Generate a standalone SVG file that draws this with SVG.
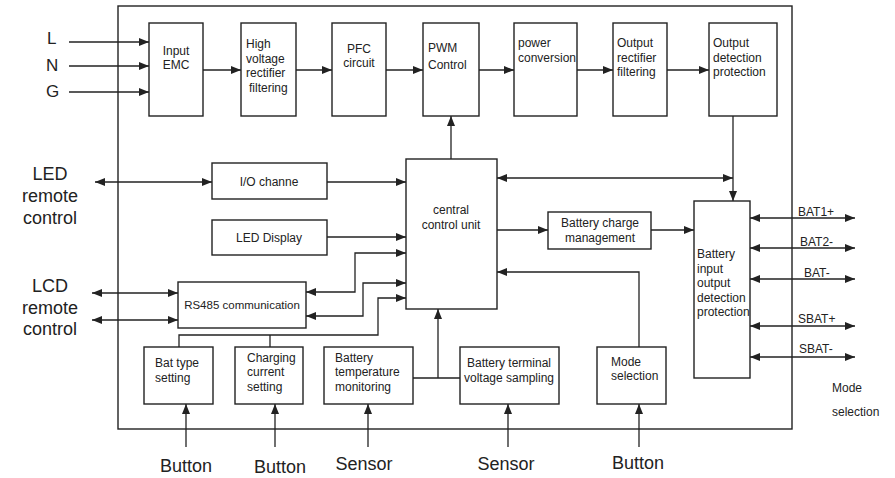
<svg xmlns="http://www.w3.org/2000/svg" width="895" height="478" viewBox="0 0 895 478">
<style>
.b{fill:#fff;stroke:#222;stroke-width:1.4}
.c{fill:none;stroke:#222;stroke-width:1.3}
text{font-family:"Liberation Sans",Arial,sans-serif;fill:#222}
.t{font-size:12px}
.tc{font-size:12px;text-anchor:middle}
.big{font-size:18px;text-anchor:middle}
</style>
<defs>
<marker id="a" viewBox="0 0 10 8" refX="10" refY="4" markerWidth="10" markerHeight="8" markerUnits="userSpaceOnUse" orient="auto-start-reverse"><path d="M0,0 L10,4 L0,8 z" fill="#222"/></marker>
</defs>
<rect width="895" height="478" fill="#fff"/>
<rect id="frame" x="118" y="6" width="674" height="423" fill="none" stroke="#222" stroke-width="1.4"/>

<g id="connectors">
<path class="c" d="M69,42 H149" marker-end="url(#a)"/>
<path class="c" d="M69,66 H149" marker-end="url(#a)"/>
<path class="c" d="M69,92 H149" marker-end="url(#a)"/>
<path class="c" d="M203,70 H241" marker-end="url(#a)"/>
<path class="c" d="M296,70 H332" marker-end="url(#a)"/>
<path class="c" d="M386,70 H423" marker-end="url(#a)"/>
<path class="c" d="M479,70 H514" marker-end="url(#a)"/>
<path class="c" d="M577,70 H613" marker-end="url(#a)"/>
<path class="c" d="M667,70 H709" marker-end="url(#a)"/>
<path class="c" d="M451,159 V116" marker-end="url(#a)"/>
<path class="c" d="M733,116 V201" marker-end="url(#a)"/>
<path class="c" d="M95,182 H212" marker-start="url(#a)" marker-end="url(#a)"/>
<path class="c" d="M327,182 H406" marker-end="url(#a)"/>
<path class="c" d="M327,237 H406" marker-end="url(#a)"/>
<path class="c" d="M92,293 H178" marker-start="url(#a)" marker-end="url(#a)"/>
<path class="c" d="M92,320 H178" marker-start="url(#a)" marker-end="url(#a)"/>
<path class="c" d="M306,292 H355 V253 H406" marker-start="url(#a)" marker-end="url(#a)"/>
<path class="c" d="M306,316 H363 V283 H406" marker-start="url(#a)" marker-end="url(#a)"/>
<path class="c" d="M179,347 V335 H378 V298 H406" marker-end="url(#a)"/>
<path class="c" d="M270,347 V335"/>
<path class="c" d="M497,178 H733" marker-start="url(#a)" marker-end="url(#a)"/>
<path class="c" d="M497,230 H548" marker-end="url(#a)"/>
<path class="c" d="M651,230 H694" marker-end="url(#a)"/>
<path class="c" d="M639,347 V272 H497" marker-end="url(#a)"/>
<path class="c" d="M413,378 H460 M438,378 V309" marker-end="url(#a)"/>
<path class="c" d="M750,218 H855" marker-start="url(#a)" marker-end="url(#a)"/>
<path class="c" d="M750,248 H855" marker-start="url(#a)" marker-end="url(#a)"/>
<path class="c" d="M750,279 H855" marker-start="url(#a)" marker-end="url(#a)"/>
<path class="c" d="M750,326 H855" marker-start="url(#a)" marker-end="url(#a)"/>
<path class="c" d="M750,357 H855" marker-start="url(#a)" marker-end="url(#a)"/>
<path class="c" d="M186,447 V404" marker-end="url(#a)"/>
<path class="c" d="M275,447 V404" marker-end="url(#a)"/>
<path class="c" d="M368,447 V404" marker-end="url(#a)"/>
<path class="c" d="M508,447 V404" marker-end="url(#a)"/>
<path class="c" d="M639,447 V404" marker-end="url(#a)"/>
</g>

<g id="input-emc"><rect class="b" x="149" y="23" width="54" height="93"/><text class="tc" x="176" y="55">Input</text><text class="tc" x="176" y="69">EMC</text></g>
<g id="hv-rectifier"><rect class="b" x="241" y="23" width="55" height="93"/><text class="t" x="246" y="48">High</text><text class="t" x="246" y="63">voltage</text><text class="t" x="246" y="77">rectifier</text><text class="t" x="249" y="92">filtering</text></g>
<g id="pfc"><rect class="b" x="332" y="23" width="54" height="93"/><text class="tc" x="359" y="53">PFC</text><text class="tc" x="359" y="67">circuit</text></g>
<g id="pwm"><rect class="b" x="423" y="23" width="56" height="93"/><text class="t" x="428" y="52">PWM</text><text class="t" x="428" y="69">Control</text></g>
<g id="power-conv"><rect class="b" x="514" y="23" width="63" height="93"/><text class="t" x="518" y="47">power</text><text class="t" x="518" y="62">conversion</text></g>
<g id="out-rect"><rect class="b" x="613" y="23" width="54" height="93"/><text class="t" x="617" y="47">Output</text><text class="t" x="617" y="62">rectifier</text><text class="t" x="617" y="76">filtering</text></g>
<g id="out-det"><rect class="b" x="709" y="23" width="68" height="93"/><text class="t" x="713" y="47">Output</text><text class="t" x="713" y="62">detection</text><text class="t" x="713" y="76">protection</text></g>

<g id="io"><rect class="b" x="212" y="163" width="115" height="36"/><text class="tc" x="269" y="186">I/O channe</text></g>
<g id="led-display"><rect class="b" x="212" y="220" width="115" height="35"/><text class="tc" x="269" y="242">LED Display</text></g>
<g id="rs485"><rect class="b" x="178" y="282" width="128" height="46"/><text class="tc" x="242" y="309" style="font-size:11.5px">RS485 communication</text></g>
<g id="cpu"><rect class="b" x="406" y="159" width="91" height="150"/><text class="tc" x="451" y="214">central</text><text class="tc" x="451" y="229">control unit</text></g>
<g id="charge-mgmt"><rect class="b" x="548" y="212" width="103" height="37"/><text class="tc" x="600" y="227">Battery charge</text><text class="tc" x="600" y="242">management</text></g>
<g id="bat-io"><rect class="b" x="694" y="201" width="56" height="177"/><text class="t" x="697" y="258">Battery</text><text class="t" x="697" y="273">input</text><text class="t" x="697" y="287">output</text><text class="t" x="697" y="302">detection</text><text class="t" x="697" y="316">protection</text></g>

<g id="bat-type"><rect class="b" x="144" y="347" width="69" height="57"/><text class="t" x="155" y="367">Bat type</text><text class="t" x="155" y="382">setting</text></g>
<g id="charging-current"><rect class="b" x="235" y="347" width="68" height="57"/><text class="t" x="247" y="362">Charging</text><text class="t" x="247" y="376">current</text><text class="t" x="247" y="391">setting</text></g>
<g id="bat-temp"><rect class="b" x="324" y="347" width="89" height="57"/><text class="t" x="335" y="362">Battery</text><text class="t" x="335" y="376">temperature</text><text class="t" x="335" y="391">monitoring</text></g>
<g id="bat-terminal"><rect class="b" x="460" y="347" width="99" height="57"/><text class="tc" x="509" y="367">Battery terminal</text><text class="tc" x="509" y="382">voltage sampling</text></g>
<g id="mode-sel"><rect class="b" x="597" y="347" width="69" height="57"/><text class="t" x="611" y="366">Mode</text><text class="t" x="611" y="380">selection</text></g>

<g id="labels">
<text x="47" y="44" style="font-size:17px">L</text>
<text x="46" y="71" style="font-size:17px">N</text>
<text x="46" y="97" style="font-size:17px">G</text>
<text class="big" x="50" y="180">LED</text>
<text class="big" x="50" y="202">remote</text>
<text class="big" x="50" y="224">control</text>
<text class="big" x="50" y="292">LCD</text>
<text class="big" x="50" y="314">remote</text>
<text class="big" x="50" y="335">control</text>
<text class="t" x="798" y="216">BAT1+</text>
<text class="t" x="800" y="246">BAT2-</text>
<text class="t" x="804" y="277">BAT-</text>
<text class="t" x="798" y="323">SBAT+</text>
<text class="t" x="799" y="353">SBAT-</text>
<text class="t" x="832" y="392">Mode</text>
<text class="t" x="832" y="416">selection</text>
<text class="big" x="186" y="472">Button</text>
<text class="big" x="280" y="473">Button</text>
<text class="big" x="364" y="470">Sensor</text>
<text class="big" x="506" y="470">Sensor</text>
<text class="big" x="638" y="469">Button</text>
</g>
</svg>
